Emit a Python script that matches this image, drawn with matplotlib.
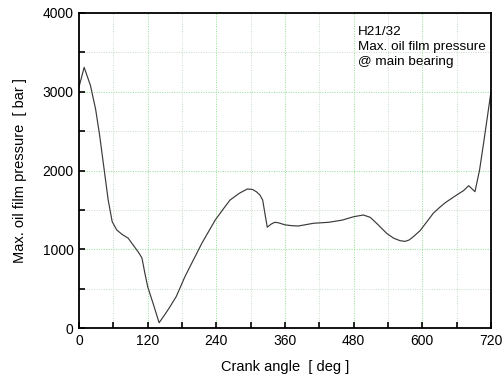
import matplotlib
matplotlib.use("Agg")
import matplotlib.pyplot as plt
from matplotlib.ticker import MultipleLocator

plt.rcParams['font.family'] = ['Liberation Sans', 'DejaVu Sans']

crank_angle = [0, 9, 20, 29, 36, 44, 51, 58, 66, 75, 86, 96, 104, 110, 115, 120, 130, 140,
               150, 159, 170, 185, 194, 215, 238, 252, 264, 280, 294, 303, 310, 316, 321,
               325, 329, 336, 342, 348, 360, 371, 383, 410, 436, 460, 480, 497, 509, 520,
               538, 550, 561, 570, 577, 586, 596, 607, 619, 630, 640, 660, 672, 681, 692,
               700, 707, 720]
pressure = [3060, 3310, 3080, 2780, 2450, 2010, 1625, 1350, 1245, 1190, 1140, 1040, 960,
            890, 700, 525, 300, 67, 170, 270, 400, 650, 780, 1080, 1370, 1510, 1625, 1710,
            1765, 1760, 1730, 1690, 1625, 1450, 1280, 1320, 1342, 1337, 1310, 1300, 1295,
            1330, 1342, 1370, 1413, 1435, 1405, 1330, 1200, 1140, 1109, 1100, 1118, 1170,
            1236, 1340, 1456, 1530, 1591, 1689, 1744, 1807, 1731, 2006, 2345, 3000]

x_ticks = [0, 120, 240, 360, 480, 600, 720]
y_ticks = [0, 1000, 2000, 3000, 4000]
annotation = "H21/32\nMax. oil film pressure\n@ main bearing"

fig = plt.figure(figsize=(5.03, 3.76), dpi=100)
ax = fig.add_axes([79/503, 1 - 328/376, 412/503, 315/376])

ax.plot(crank_angle, pressure, color='#3a3a3a', linewidth=0.85)

ax.set_xlim(0, 720)
ax.set_ylim(0, 4000)
ax.set_xticks(x_ticks)
ax.set_yticks(y_ticks)
ax.xaxis.set_minor_locator(MultipleLocator(60))
ax.yaxis.set_minor_locator(MultipleLocator(500))

ax.grid(which='major', color='#8fe08f', linestyle=(0, (1, 1.5)), linewidth=0.7)
ax.grid(which='minor', color='#c5dcc5', linestyle=(0, (1, 1.5)), linewidth=0.7)
ax.set_axisbelow(True)

ax.tick_params(which='both', direction='in', top=False, right=False,
               labelsize=10, length=4, width=1.2, pad=4)
for s in ax.spines.values():
    s.set_linewidth(1.3)

ax.set_xlabel('Crank angle  [ deg ]', fontsize=10.5, labelpad=9)
ax.set_ylabel('Max. oil film pressure  [ bar ]', fontsize=10.5, labelpad=11)

ax.text(0.677, 0.96, annotation, transform=ax.transAxes, fontsize=9.7,
        va='top', ha='left', linespacing=1.38)

fig.savefig('out.png', dpi=100)
